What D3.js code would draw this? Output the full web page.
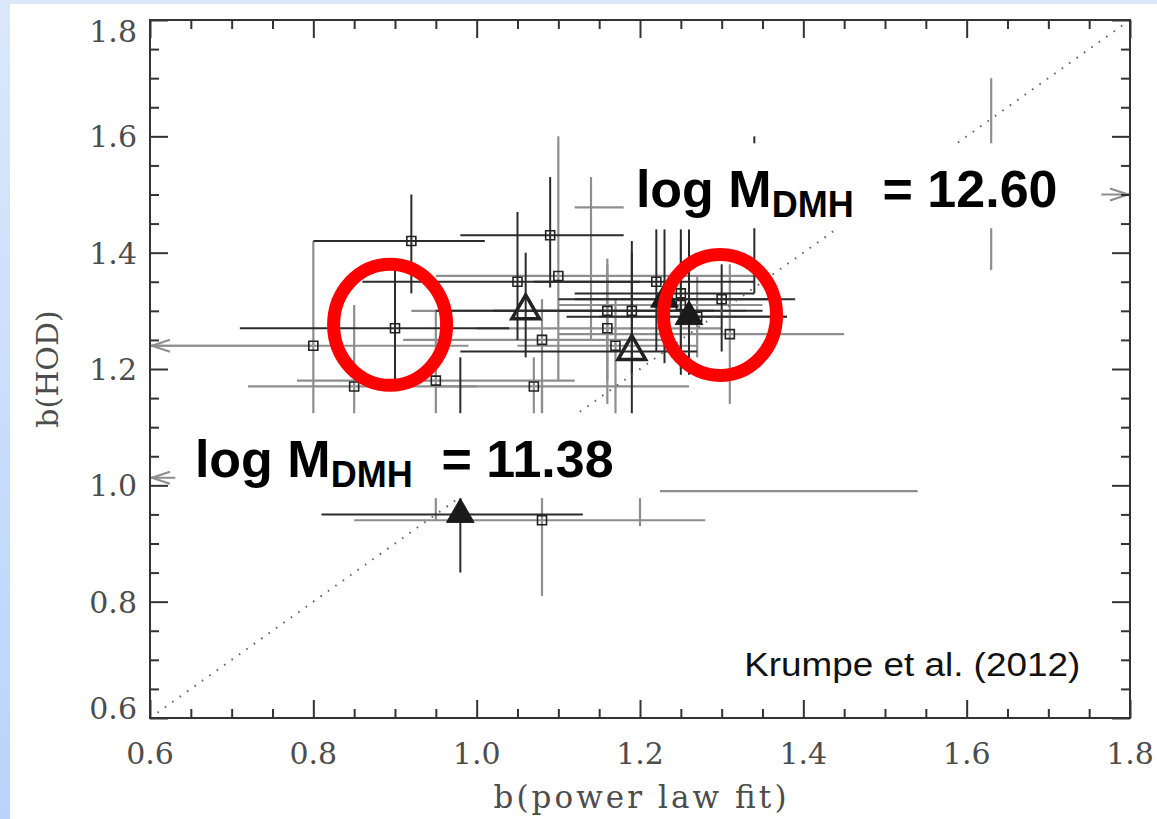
<!DOCTYPE html>
<html><head><meta charset="utf-8">
<script src="https://cdn.jsdelivr.net/npm/d3@7"></script>
<style>
html,body{margin:0;padding:0;}
body{width:1157px;height:819px;overflow:hidden;background:linear-gradient(#dbe8fc,#b9d3fa);}
svg{display:block;}
</style></head><body>
<svg id="chart" width="1157" height="819"></svg>
<script>
// ---------------- data ----------------
const xTickValues = [0.6, 0.8, 1.0, 1.2, 1.4, 1.6, 1.8];
const yTickValues = [0.6, 0.8, 1.0, 1.2, 1.4, 1.6, 1.8];
const xTickLabels = ["0.6", "0.8", "1.0", "1.2", "1.4", "1.6", "1.8"];
const yTickLabels = ["0.6", "0.8", "1.0", "1.2", "1.4", "1.6", "1.8"];
const xTitle = "b(power law fit)";
const yTitle = "b(HOD)";

// each row: [x, y, xLow, xHigh, yLow, yHigh]
const squaresBlack = [
  [0.92, 1.42, 0.80, 1.01, 1.33, 1.50],
  [0.90, 1.27, 0.71, 1.04, 1.18, 1.37],
  [1.05, 1.35, 0.86, 1.20, 1.25, 1.47],
  [1.09, 1.43, 0.98, 1.18, 1.34, 1.53],
  [1.19, 1.30, 1.02, 1.35, 1.19, 1.42],
  [1.22, 1.35, 1.07, 1.34, 1.23, 1.44],
  [1.25, 1.33, 1.12, 1.34, 1.19, 1.44],
  [1.30, 1.32, 1.12, 1.39, 1.23, 1.38]
];
const squaresGray = [
  [0.80, 1.24, 0.60, 0.99, 1.12, 1.42],
  [0.85, 1.17, 0.72, 1.00, 1.05, 1.31],
  [0.95, 1.18, 0.78, 1.12, 0.94, 1.30],
  [1.07, 1.17, 0.95, 1.26, 1.07, 1.22],
  [1.10, 1.36, 0.95, 1.36, 1.18, 1.60],
  [1.08, 1.25, 0.91, 1.24, 1.12, 1.32],
  [1.16, 1.30, 0.92, 1.33, 1.18, 1.39],
  [1.16, 1.27, 1.00, 1.30, 1.14, 1.38],
  [1.17, 1.24, 1.05, 1.27, 1.12, 1.32],
  [1.25, 1.31, 1.10, 1.35, 1.20, 1.42],
  [1.31, 1.26, 1.10, 1.45, 1.14, 1.38],
  [1.27, 1.29, 1.15, 1.38, 1.22, 1.36],
  [1.08, 0.94, 0.85, 1.28, 0.81, 1.18]
];
const openTriangles = [
  [1.06, 1.30, 0.95, 1.29, 1.22, 1.40],
  [1.19, 1.23, 0.98, 1.27, 1.08, 1.40]
];
const filledTriangles = [
  [1.26, 1.29, 1.11, 1.38, 1.19, 1.44],
  [1.23, 1.32, 1.10, 1.36, 1.21, 1.44],
  [0.98, 0.95, 0.81, 1.13, 0.85, 1.22]
];
const barsOnlyGray = [
  [1.63, 1.63, 1.63, 1.63, 1.37, 1.70],
  [1.14, 1.38, 1.14, 1.14, 1.25, 1.53],
  [1.35, 0.99, 1.00, 1.54, 0.99, 0.99],
  [1.20, 0.95, 1.20, 1.20, 0.93, 1.00],
  [1.25, 1.478, 1.12, 1.40, 1.478, 1.478]
];
const barsOnlyBlack = [
  [1.34, 1.45, 1.34, 1.34, 1.33, 1.60]
];
// limits: [y, x where the line starts]
const leftArrows = [[1.24, 0.80], [1.013, 0.80]];
const rightArrows = [[1.50, 1.55]];

// annotations (data coordinates)
const circleCentres = [[0.894, 1.276], [1.298, 1.293]];
const labelBoxes = [[1.18, 1.765, 1.442, 1.588], [0.631, 1.2245, 0.978, 1.124]];
const massLabels = [
  {x: 1.195, y: 1.478, value: "12.60"},
  {x: 0.655, y: 1.014, value: "11.38"}
];
const credit = {x: 1.739, y: 0.673, text: "Krumpe et al. (2012)"};

// ---------------- layout ----------------
const W = 1157, H = 819;
const P = {l: 150, r: 1130, t: 20, b: 718};
const x = d3.scaleLinear().domain([0.6, 1.8]).range([P.l, P.r]);
const y = d3.scaleLinear().domain([0.6, 1.8]).range([P.b, P.t]);
const svg = d3.select("#chart");

svg.append("rect").attr("x", 10).attr("y", 4).attr("width", W - 10).attr("height", H - 4).attr("fill", "#fff");

const GRAY = "#8e8e8e", BLACK = "#2b2b2b";

function bars(data, color, w) {
  const g = svg.append("g").attr("stroke", color).attr("stroke-width", w).attr("fill", "none");
  g.selectAll("line.h").data(data.filter(d => d[2] !== d[3])).join("line").attr("class", "h")
    .attr("x1", d => x(d[2])).attr("x2", d => x(d[3])).attr("y1", d => y(d[1])).attr("y2", d => y(d[1]));
  g.selectAll("line.v").data(data.filter(d => d[4] !== d[5])).join("line").attr("class", "v")
    .attr("x1", d => x(d[0])).attr("x2", d => x(d[0])).attr("y1", d => y(d[4])).attr("y2", d => y(d[5]));
}
bars(squaresGray, GRAY, 2.2);
bars(barsOnlyGray, GRAY, 2.2);
bars(squaresBlack, BLACK, 2);
bars(barsOnlyBlack, BLACK, 2);
bars(openTriangles, BLACK, 2);
bars(filledTriangles, BLACK, 2);

// arrows
const ag = svg.append("g").attr("stroke", GRAY).attr("stroke-width", 2.2).attr("fill", "none");
leftArrows.forEach(([yy, xs]) => {
  ag.append("line").attr("x1", x(0.6)).attr("x2", x(xs)).attr("y1", y(yy)).attr("y2", y(yy));
  ag.append("path").attr("d", `M${x(0.6) + 20},${y(yy) - 6}L${x(0.6) + 2},${y(yy)}L${x(0.6) + 20},${y(yy) + 6}`);
});
rightArrows.forEach(([yy, xs]) => {
  ag.append("line").attr("x1", x(xs)).attr("x2", x(1.8)).attr("y1", y(yy)).attr("y2", y(yy));
  ag.append("path").attr("d", `M${x(1.8) - 20},${y(yy) - 6}L${x(1.8) - 2},${y(yy)}L${x(1.8) - 20},${y(yy) + 6}`);
});

// markers
const sq = d3.symbol().type(d3.symbolSquare).size(81);
svg.append("g").selectAll("path").data(squaresGray.concat(squaresBlack)).join("path")
  .attr("d", sq).attr("transform", d => `translate(${x(d[0])},${y(d[1])})`)
  .attr("fill", "none").attr("stroke", "#222").attr("stroke-width", 1.6);
const tri = d3.symbol().type(d3.symbolTriangle).size(330);
svg.append("g").selectAll("path").data(openTriangles).join("path")
  .attr("d", tri).attr("transform", d => `translate(${x(d[0])},${y(d[1])})`)
  .attr("fill", "none").attr("stroke", "#222").attr("stroke-width", 3.5).attr("stroke-linejoin", "miter");
svg.append("g").selectAll("path").data(filledTriangles).join("path")
  .attr("d", tri).attr("transform", d => `translate(${x(d[0])},${y(d[1])})`)
  .attr("fill", "#1a1a1a").attr("stroke", "#1a1a1a").attr("stroke-width", 1);

// one-to-one dotted line
svg.append("path").datum([[0.6, 0.6], [1.8, 1.8]])
  .attr("d", d3.line().x(d => x(d[0])).y(d => y(d[1])))
  .attr("stroke", "#666").attr("stroke-width", 2).attr("stroke-dasharray", "1.6 7.5").attr("fill", "none");

// white label boxes
svg.append("g").selectAll("rect").data(labelBoxes).join("rect")
  .attr("x", d => x(d[0])).attr("width", d => x(d[1]) - x(d[0]))
  .attr("y", d => y(d[3])).attr("height", d => y(d[2]) - y(d[3])).attr("fill", "#fff");

// mass labels
const ml = svg.append("g").attr("font-family", "Liberation Sans, Arial, sans-serif").attr("font-weight", "bold").attr("fill", "#000");
massLabels.forEach(m => {
  const t = ml.append("text").attr("x", x(m.x)).attr("y", y(m.y)).attr("font-size", 52);
  t.append("tspan").text("log M");
  t.append("tspan").attr("font-size", 36).attr("dy", 10).text("DMH");
  t.append("tspan").attr("dy", -10).text("\u00a0\u00a0= " + m.value);
});

svg.append("text").attr("x", x(credit.x)).attr("y", y(credit.y)).attr("text-anchor", "end")
  .attr("font-family", "Liberation Sans, Arial, sans-serif").attr("font-size", 33)
  .attr("textLength", 336).attr("lengthAdjust", "spacingAndGlyphs")
  .attr("fill", "#111").text(credit.text);

// red circles
svg.append("g").selectAll("ellipse").data(circleCentres).join("ellipse")
  .attr("cx", d => x(d[0])).attr("cy", d => y(d[1])).attr("rx", 56.5).attr("ry", 60.5)
  .attr("fill", "none").attr("stroke", "#ff0000").attr("stroke-width", 13);

// axes
const minor = d3.range(0.6, 1.8001, 0.05).map(v => +v.toFixed(2)).filter(v => !xTickValues.some(t => Math.abs(t - v) < 1e-6));
function axisSet(axisFn, scale, tx, ty, len, vals) {
  const g = svg.append("g").attr("transform", `translate(${tx},${ty})`)
    .call(axisFn(scale).tickValues(vals).tickSize(-len).tickSizeOuter(0).tickFormat(""));
  g.select(".domain").remove();
  g.selectAll("line").attr("stroke", "#333").attr("stroke-width", 2);
  return g;
}
[[d3.axisBottom, x, 0, P.b], [d3.axisTop, x, 0, P.t], [d3.axisLeft, y, P.l, 0], [d3.axisRight, y, P.r, 0]].forEach(([f, s, tx, ty]) => {
  axisSet(f, s, tx, ty, 18, s === x ? xTickValues : yTickValues);
  axisSet(f, s, tx, ty, 9, minor);
});
svg.append("rect").attr("x", P.l).attr("y", P.t).attr("width", P.r - P.l).attr("height", P.b - P.t)
  .attr("fill", "none").attr("stroke", "#333").attr("stroke-width", 2);

// tick labels
const tf = "DejaVu Serif, serif";
svg.append("g").selectAll("text").data(xTickValues).join("text")
  .attr("x", d => x(d)).attr("y", 764).attr("text-anchor", "middle")
  .attr("font-family", tf).attr("font-size", 30).attr("fill", "#4d4d4d")
  .text((d, i) => xTickLabels[i]);
svg.append("g").selectAll("text").data(yTickValues).join("text")
  .attr("x", P.l - 13).attr("y", (d, i) => y(d) + 11 + (i === yTickValues.length - 1 ? 11 : 0) + (i === 0 ? -10 : 0))
  .attr("text-anchor", "end")
  .attr("font-family", tf).attr("font-size", 30).attr("fill", "#4d4d4d")
  .text((d, i) => yTickLabels[i]);
svg.append("text").attr("x", (P.l + P.r) / 2).attr("y", 808).attr("text-anchor", "middle")
  .attr("font-family", tf).attr("font-size", 31).attr("fill", "#4d4d4d")
  .attr("textLength", 293).attr("lengthAdjust", "spacing").text(xTitle);
svg.append("text").attr("transform", `translate(58,${(P.t + P.b) / 2}) rotate(-90)`).attr("text-anchor", "middle")
  .attr("font-family", tf).attr("font-size", 30).attr("fill", "#4d4d4d").text(yTitle);
</script>
</body></html>
